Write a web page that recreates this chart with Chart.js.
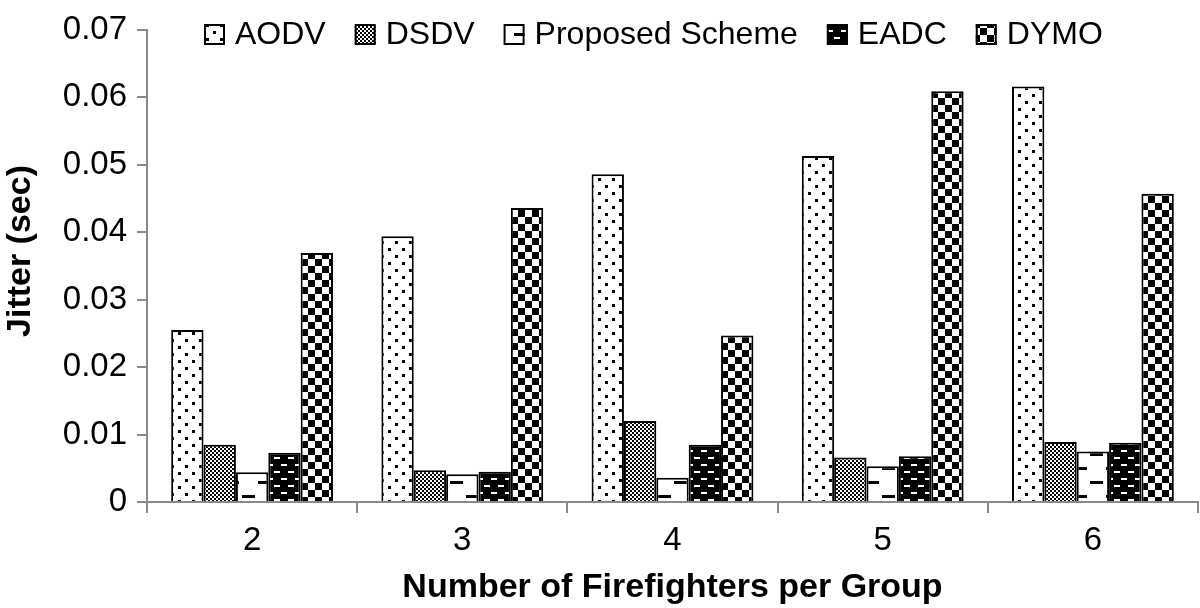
<!DOCTYPE html>
<html>
<head>
<meta charset="utf-8">
<script src="https://cdn.jsdelivr.net/npm/chart.js@4/dist/chart.umd.min.js"></script>
<style>
  html, body { margin: 0; padding: 0; background: #fff; }
  #wrap { width: 1200px; height: 608px; position: relative; }
</style>
</head>
<body>
<div id="wrap"><canvas id="jitterChart" width="1200" height="608"></canvas></div>
<script>
// group sizes on the x axis
const categories = ['2', '3', '4', '5', '6'];

// jitter in seconds, one array per routing scheme
const aodv     = [0.0255, 0.0394, 0.0486, 0.0513, 0.0616];
const dsdv     = [0.0085, 0.0047, 0.0120, 0.0066, 0.0089];
const proposed = [0.0044, 0.0041, 0.0036, 0.0053, 0.0075];
const eadc     = [0.0073, 0.0045, 0.0085, 0.0068, 0.0088];
const dymo     = [0.0369, 0.0436, 0.0247, 0.0609, 0.0457];

const seriesNames = ['AODV', 'DSDV', 'Proposed Scheme', 'EADC', 'DYMO'];
const yTicks = [0, 0.01, 0.02, 0.03, 0.04, 0.05, 0.06, 0.07];

const FONT = '"Liberation Sans", Arial, Helvetica, sans-serif';

function makePattern(w, h, bg, fg, rects) {
    const c = document.createElement('canvas');
    c.width = w; c.height = h;
    const g = c.getContext('2d');
    g.fillStyle = bg;
    g.fillRect(0, 0, w, h);
    g.fillStyle = fg;
    rects.forEach(r => g.fillRect(r[0], r[1], r[2], r[3]));
    return g.createPattern(c, 'repeat');
}

// fill patterns (black & white print style)
const patterns = [
    makePattern(14, 14, '#fff', '#000', [[3, 3, 3, 3], [10, 10, 3, 3]]),           // dots
    makePattern(4, 4, '#fff', '#000', [[0, 0, 2, 2], [2, 2, 2, 2]]),              // fine checker
    makePattern(32, 28, '#fff', '#000', [[2, 5, 13, 3], [18, 19, 13, 3]]),        // sparse dashes
    makePattern(14, 14, '#000', '#fff', [[1, 2, 6, 2], [8, 9, 6, 2]]),            // black brick
    makePattern(14, 14, '#fff', '#000', [[0, 0, 7, 7], [7, 7, 7, 7]])             // big checker
];

const seriesData = [aodv, dsdv, proposed, eadc, dymo];

const datasets = seriesNames.map((name, i) => ({
    label: name,
    data: seriesData[i],
    backgroundColor: patterns[i],
    borderColor: '#000',
    borderWidth: 2,
    borderSkipped: 'bottom'
}));

// legend is drawn over the top of the plot, like the original
const overlayLegend = {
    id: 'overlayLegend',
    beforeDraw(chart) {
        const ctx = chart.ctx;
        ctx.save();
        ctx.fillStyle = '#fff';
        ctx.fillRect(0, 0, chart.width, chart.height);
        ctx.restore();
    },
    afterDraw(chart) {
        const ctx = chart.ctx;
        ctx.save();
        ctx.font = '32px ' + FONT;
        ctx.textBaseline = 'middle';
        let x = 204;
        const y = 34.5;
        const box = 21;
        seriesNames.forEach((name, i) => {
            ctx.fillStyle = patterns[i];
            ctx.fillRect(x, y - box / 2, box, box);
            ctx.lineWidth = 2;
            ctx.strokeStyle = '#000';
            ctx.strokeRect(x + 1, y - box / 2 + 1, box - 2, box - 2);
            ctx.fillStyle = '#000';
            ctx.fillText(name, x + box + 10, y + 1);
            x += box + 10 + ctx.measureText(name).width + 29;
        });

        // y axis title, a bit above the plot centre as in the original
        ctx.font = 'bold 34px ' + FONT;
        ctx.textAlign = 'center';
        ctx.translate(21, 251);
        ctx.rotate(-Math.PI / 2);
        ctx.fillText('Jitter (sec)', 0, 0);
        ctx.restore();
    }
};

const ctx = document.getElementById('jitterChart').getContext('2d');
new Chart(ctx, {
    type: 'bar',
    data: { labels: categories, datasets: datasets },
    plugins: [overlayLegend],
    options: {
        responsive: false,
        animation: false,
        devicePixelRatio: 1,
        layout: { padding: { top: 21, right: 2, left: 0, bottom: 0 } },
        datasets: {
            bar: { categoryPercentage: 0.77, barPercentage: 1.0 }
        },
        plugins: {
            legend: { display: false },
            tooltip: { enabled: false }
        },
        scales: {
            x: {
                grid: {
                    offset: true,
                    drawOnChartArea: false,
                    drawTicks: true,
                    tickLength: 11,
                    color: '#8a8a8a',
                    lineWidth: 2
                },
                border: { color: '#8a8a8a', width: 2 },
                ticks: {
                    color: '#000',
                    padding: 8,
                    font: { family: FONT, size: 33 }
                },
                title: {
                    display: true,
                    text: 'Number of Firefighters per Group',
                    color: '#000',
                    padding: { top: 0, bottom: 0 },
                    font: { family: FONT, size: 34, weight: 'bold' }
                },
                afterFit(scale) { scale.height = 106; }
            },
            y: {
                min: 0,
                max: 0.07,
                afterBuildTicks(scale) {
                    scale.ticks = yTicks.map(v => ({ value: v }));
                },
                grid: {
                    drawOnChartArea: false,
                    drawTicks: true,
                    tickLength: 10,
                    color: '#8a8a8a',
                    lineWidth: 2
                },
                border: { color: '#8a8a8a', width: 2 },
                ticks: {
                    color: '#000',
                    padding: 10,
                    font: { family: FONT, size: 33 },
                    callback: v => (v === 0 ? '0' : v.toFixed(2))
                },
                afterFit(scale) { scale.width = 147; }
            }
        }
    }
});
</script>
</body>
</html>
